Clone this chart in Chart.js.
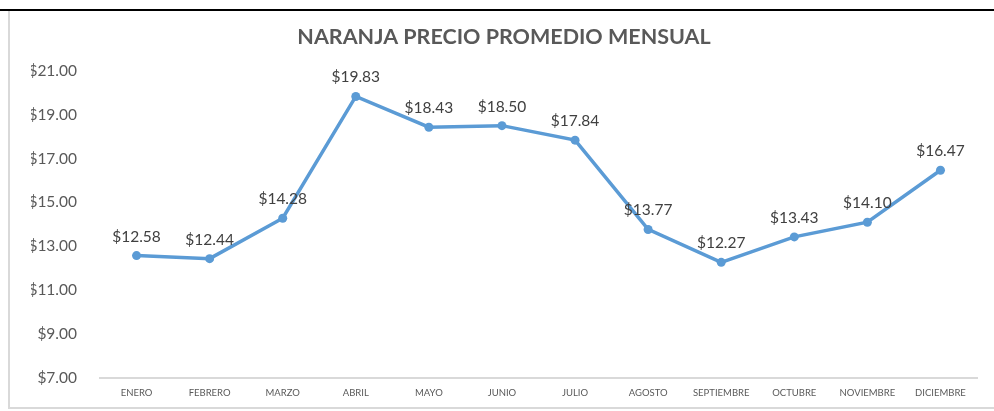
<!DOCTYPE html>
<html>
<head>
<meta charset="utf-8">
<script src="https://cdn.jsdelivr.net/npm/chart.js@4/dist/chart.umd.min.js"></script>
<style>
  body { margin: 0; background: #fff; }
  #topline { position: absolute; left: 0; top: 9px; width: 994px; height: 2px; background: #000; }
  #frame { position: absolute; left: 8px; top: 11px; width: 990px; height: 396px;
           border-left: 2px solid #d9d9d9; border-bottom: 2px solid #d9d9d9; }
  #wrap { position: absolute; left: 0; top: 0; width: 994px; height: 411px; }
</style>
</head>
<body>
<div id="topline"></div>
<div id="frame"></div>
<div id="wrap"><canvas id="chart"></canvas></div>
<script>
const meses = ['ENERO', 'FEBRERO', 'MARZO', 'ABRIL', 'MAYO', 'JUNIO', 'JULIO', 'AGOSTO', 'SEPTIEMBRE', 'OCTUBRE', 'NOVIEMBRE', 'DICIEMBRE'];
const precios = [12.58, 12.44, 14.28, 19.83, 18.43, 18.50, 17.84, 13.77, 12.27, 13.43, 14.10, 16.47];
const yMin = 7, yMax = 21, yStep = 2;

// etiquetas de valor sobre cada punto
const etiquetas = {
  id: 'etiquetas',
  afterDatasetsDraw(chart) {
    const ctx = chart.ctx;
    const meta = chart.getDatasetMeta(0);
    ctx.save();
    ctx.font = '15.5px Lato';
    ctx.fillStyle = '#404040';
    ctx.textAlign = 'center';
    ctx.textBaseline = 'middle';
    meta.data.forEach((pt, i) => {
      ctx.fillText('$' + precios[i].toFixed(2), pt.x, pt.y - 19);
    });
    ctx.restore();
  }
};

new Chart(document.getElementById('chart'), {
  type: 'line',
  data: {
    labels: meses,
    datasets: [{
      data: precios,
      borderColor: '#5b9bd5',
      backgroundColor: '#5b9bd5',
      borderWidth: 3.5,
      pointRadius: 4.5,
      pointBorderWidth: 0,
      tension: 0
    }]
  },
  options: {
    responsive: true,
    maintainAspectRatio: false,
    animation: false,
    layout: { padding: { top: 24, right: 17, bottom: 0, left: 31 } },
    plugins: {
      legend: { display: false },
      tooltip: { enabled: false },
      title: {
        display: true,
        text: 'NARANJA PRECIO PROMEDIO MENSUAL',
        color: '#595959',
        font: { family: 'Lato', size: 21.5, weight: 'bold' },
        padding: { top: 0, bottom: 21 }
      }
    },
    scales: {
      x: {
        offset: true,
        afterFit: s => { s.height = 33; },
        grid: { display: false, drawTicks: false },
        border: { color: '#d9d9d9', width: 2 },
        ticks: { color: '#595959', font: { family: 'Lato', size: 9.5 }, padding: 9, maxRotation: 0, autoSkip: false }
      },
      y: {
        min: yMin,
        max: yMax,
        afterFit: s => { s.width = 69; },
        grid: { display: false, drawTicks: false },
        border: { display: false },
        ticks: {
          stepSize: yStep,
          color: '#595959',
          font: { family: 'Lato', size: 15.5 },
          padding: 23,
          callback: v => '$' + v.toFixed(2)
        }
      }
    }
  },
  plugins: [etiquetas]
});
</script>
</body>
</html>
